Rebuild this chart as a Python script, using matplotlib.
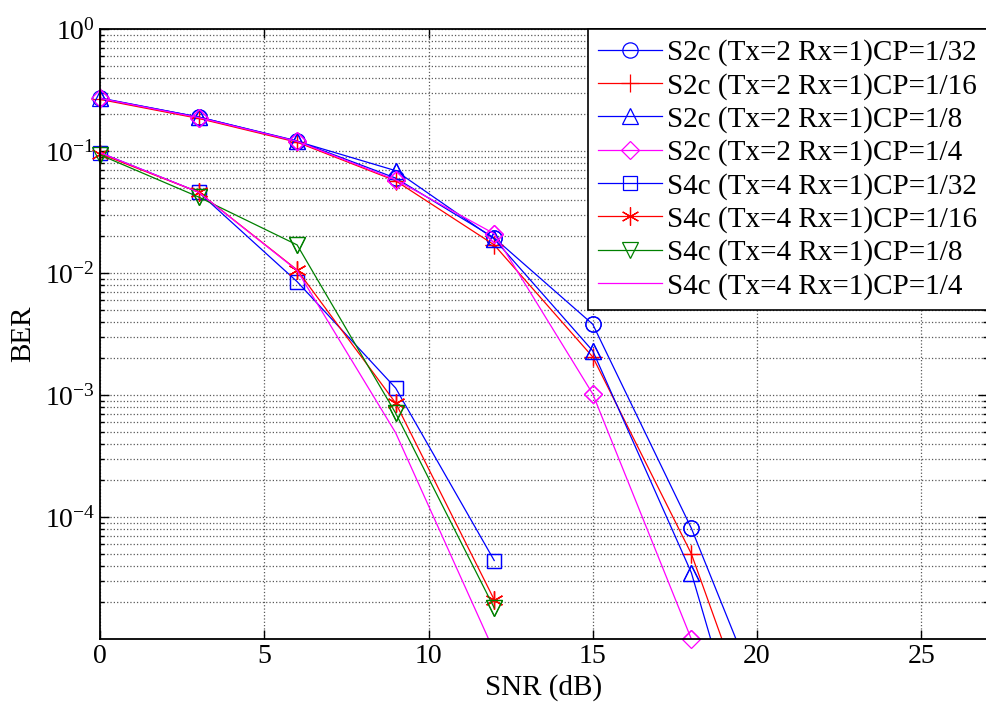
import numpy as np
import matplotlib
matplotlib.use('Agg')
import matplotlib.pyplot as plt
from matplotlib.ticker import LogLocator, NullFormatter

plt.rcParams['font.family'] = 'Liberation Serif'
plt.rcParams['mathtext.fontset'] = 'custom'
plt.rcParams['mathtext.rm'] = 'Liberation Serif'
plt.rcParams['mathtext.default'] = 'regular'

# SNR points (dB)
snr2 = [0, 3, 6, 9, 12, 15, 18, 21]
snr4 = [0, 3, 6, 9, 12]

# BER, 2 transmit antennas
s2c_32 = [0.272, 0.19, 0.121, 0.060, 0.0194, 0.0038, 8.1e-5, 8e-7]
s2c_16 = [0.265, 0.185, 0.118, 0.057, 0.017, 0.00205, 5.0e-5, 2.8e-7]
s2c_8 = [0.27, 0.19, 0.12, 0.069, 0.019, 0.0023, 3.5e-5, 6e-8]
s2c_4 = [0.27, 0.188, 0.12, 0.058, 0.021, 0.00102, 1.0e-5, np.nan]

# BER, 4 transmit antennas
s4c_32 = [0.097, 0.046, 0.0085, 0.00114, 4.4e-5]
s4c_16 = [0.095, 0.046, 0.0106, 8.6e-4, 2.1e-5]
s4c_8 = [0.093, 0.042, 0.017, 7.1e-4, 1.8e-5]
s4c_4 = [0.097, 0.046, 0.0105, 4.9e-4, 7.9e-6]

labels = ['S2c (Tx=2 Rx=1)CP=1/32', 'S2c (Tx=2 Rx=1)CP=1/16',
          'S2c (Tx=2 Rx=1)CP=1/8', 'S2c (Tx=2 Rx=1)CP=1/4',
          'S4c (Tx=4 Rx=1)CP=1/32', 'S4c (Tx=4 Rx=1)CP=1/16',
          'S4c (Tx=4 Rx=1)CP=1/8', 'S4c (Tx=4 Rx=1)CP=1/4']

ymin, ymax = 1e-5, 1.0

blue = (0, 0, 1)
red = (1, 0, 0)
mag = (1, 0, 1)
green = (0, 0.5, 0)

fig = plt.figure(figsize=(9.87, 7.04), dpi=100)
ax = fig.add_axes([0.1013, 0.0923, 0.8987, 0.8665])

series = [
    (snr2, s2c_32, blue, 'o', 11),
    (snr2, s2c_16, red, '+', 13),
    (snr2, s2c_8, blue, '^', 12),
    (snr2, s2c_4, mag, 'D', 9),
    (snr4, s4c_32, blue, 's', 10),
    (snr4, s4c_16, red, (6, 2, 0), 13),
    (snr4, s4c_8, green, 'v', 12),
    (snr4, s4c_4, mag, None, 0),
]

for (x, y, c, mk, ms), lab in zip(series, labels):
    ax.plot(x, y, color=c, lw=0.9, marker=mk, ms=ms, mfc='none',
            mec=c, mew=0.9, label=lab)
    # markers sitting on the axes edge are drawn whole
    if mk is not None:
        x = np.array(x, dtype=float)
        y = np.array(y, dtype=float)
        keep = y >= ymin * 0.999
        ax.plot(x[keep], y[keep], ls='none', marker=mk, ms=ms, mfc='none',
                mec=c, mew=0.9, clip_on=False)

ax.set_yscale('log')
ax.set_xlim(0, 27)
ax.set_ylim(ymin, ymax)
ax.set_xticks([0, 5, 10, 15, 20, 25])
ax.set_yticks([1e-4, 1e-3, 1e-2, 1e-1, 1])
ax.yaxis.set_minor_locator(LogLocator(base=10, subs=np.arange(2, 10), numticks=20))
ax.yaxis.set_minor_formatter(NullFormatter())

ax.grid(True, which='major', axis='x', color='0.35', ls=':', lw=0.9)
ax.grid(True, which='both', axis='y', color='0.35', ls=':', lw=0.9)

ax.tick_params(which='both', direction='in', top=True, right=True, labelsize=20)
ax.tick_params(which='major', length=6.5, width=1)
ax.tick_params(which='minor', length=3, width=1)
for s in ax.spines.values():
    s.set_linewidth(1.3)

ax.set_xlabel('SNR (dB)', fontsize=21, labelpad=4)
ax.set_ylabel('BER', fontsize=21, labelpad=6)

leg = ax.legend(loc='upper right', borderaxespad=0, fontsize=21,
                fancybox=False, edgecolor='black', framealpha=1,
                handlelength=2.2, handletextpad=0.15, labelspacing=0.22,
                borderpad=0.35)
leg.get_frame().set_linewidth(1.2)
leg.set_zorder(10)

fig.savefig('out.png', dpi=100)
